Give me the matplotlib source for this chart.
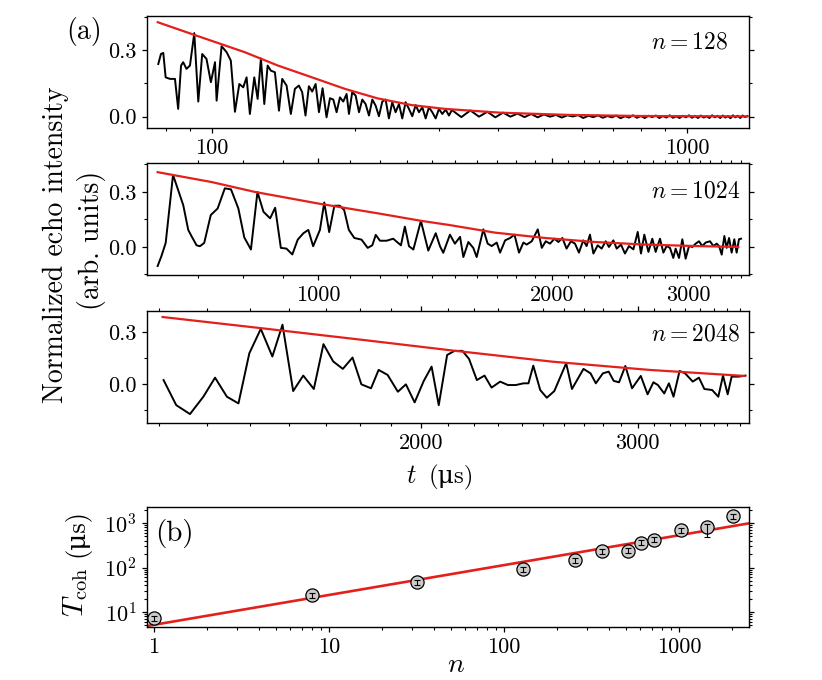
import matplotlib
matplotlib.use('Agg')
import matplotlib.pyplot as plt
import matplotlib.ticker as ticker
import numpy as np

# Computer-Modern look, with a fallback family for the upright mu
plt.rcParams['font.family'] = ['cmr10', 'DejaVu Serif']
plt.rcParams['mathtext.fontset'] = 'cm'
plt.rcParams['axes.formatter.use_mathtext'] = True
plt.rcParams['axes.unicode_minus'] = False
plt.rcParams['xtick.labelsize'] = 16
plt.rcParams['ytick.labelsize'] = 16

# ---- data ---------------------------------------------------------------
# n = 128 echo trace (t in us)
t128 = [77.1, 78.1, 79.0, 79.9, 81.6, 83.6, 84.9, 86.1, 87.0, 88.4,
        89.9, 91.8, 93.6, 95.4, 97.4, 99.5, 101.5, 102.3, 104.8, 107.4,
        109.6, 111.8, 114.2, 116.4, 118.3, 120.2, 122.8, 124.8, 126.8, 128.9,
        131.0, 133.1, 135.7, 138.4, 140.6, 143.6, 146.6, 149.5, 152.4, 154.9,
        157.4, 160.0, 162.6, 165.3, 168.0, 171.0, 174.3, 177.2, 180.1, 183.0,
        186.0, 189.0, 192.1, 194.3, 197.4, 200.7, 204.0, 207.3, 210.6, 214.1,
        217.6, 221.1, 224.7, 228.4, 232.1, 235.8, 239.7, 243.6, 247.6, 251.6,
        255.7, 259.9, 264.1, 268.5, 272.8, 277.3, 281.8, 286.3, 291.0, 295.8,
        300.6, 305.5, 310.4, 315.5,
        320, 335, 350, 365, 380, 395, 410, 425, 440, 455,
        470, 485, 500, 515, 530, 545, 560, 575, 590, 605,
        620, 635, 650, 665, 680, 695, 710, 725, 740, 755,
        770, 785, 800, 815, 830, 845, 860, 875, 890, 905,
        920, 935, 950, 965, 980, 995, 1010, 1025, 1040, 1055,
        1070, 1085, 1100, 1115, 1130, 1145, 1160, 1175, 1190, 1205,
        1220, 1235, 1250, 1265, 1280, 1295, 1310, 1325, 1340]
echo128 = [0.237, 0.282, 0.287, 0.177, 0.170, 0.170, 0.035, 0.230, 0.245, 0.215,
           0.230, 0.376, 0.068, 0.282, 0.260, 0.155, 0.245, 0.072, 0.317, 0.290,
           0.252, 0.022, 0.147, 0.132, 0.177, 0.012, 0.177, 0.080, 0.262, 0.057,
           0.230, 0.207, 0.200, 0.027, 0.170, 0.140, 0.012, 0.125, 0.140, 0.110,
           0.005, 0.137, 0.113, 0.147, 0.020, 0.128, -0.003, 0.083, 0.077, 0.020,
           0.087, 0.068, 0.102, 0.012, 0.110, 0.095, 0.020, 0.077, 0.057, 0.005,
           0.077, 0.050, 0.002, 0.068, 0.077, -0.008, 0.065, 0.020, 0.057, -0.008,
           0.065, 0.035, 0.002, 0.052, 0.020, 0.042, -0.008, 0.042, 0.020, -0.008,
           0.035, 0.012, 0.032, 0.005,
           0.030, -0.002, 0.028, 0.000, 0.022, -0.003, 0.018, 0.000, 0.014, -0.002,
           0.012, -0.003, 0.010, 0.000, 0.008, -0.004, 0.006, 0.001, 0.007, -0.006,
           0.004, -0.002, 0.006, -0.005, 0.003, -0.003, 0.005, -0.007, 0.002, -0.004,
           0.006, -0.005, 0.003, -0.006, 0.004, -0.002, 0.005, -0.006, 0.003, -0.004,
           0.006, -0.005, 0.002, -0.006, 0.004, -0.003, 0.006, -0.005, 0.003, -0.006,
           0.005, -0.004, 0.002, -0.006, 0.006, -0.003, 0.004, -0.006, 0.005, -0.004,
           0.003, -0.007, 0.006, -0.003, 0.004, -0.006, 0.005, -0.002, 0.003]
fit128_t = [76.9, 92.1, 117.3, 137.7, 162.4, 190.6, 223.5, 263.6, 309.5, 404, 560, 800, 1340]
fit128 = [0.425, 0.367, 0.290, 0.230, 0.177, 0.125, 0.082, 0.052, 0.035, 0.018, 0.008, 0.003, 0.001]

# n = 1024 echo trace
t1024 = [621, 628, 636, 650, 660, 670, 680, 687, 697, 704,
         713, 727, 742, 758, 772, 789, 803, 819, 835, 850,
         867, 880, 895, 910, 926, 941, 957, 971, 985, 1005,
         1018, 1033, 1049, 1066, 1080, 1095, 1113, 1137, 1158, 1174,
         1186, 1201, 1225, 1249, 1278, 1293, 1309, 1326, 1356, 1386,
         1417, 1435, 1449,
         1478, 1500, 1523, 1538, 1561, 1584, 1600, 1632, 1653, 1673,
         1698, 1715, 1741, 1767, 1790, 1814, 1838, 1856, 1884, 1918,
         1941, 1964, 1989, 2015, 2039, 2063, 2089, 2116, 2142, 2167,
         2195, 2217, 2239, 2262, 2291, 2318, 2346, 2369, 2400, 2424,
         2455, 2484, 2514, 2547, 2580, 2605, 2631, 2663, 2694, 2721,
         2756, 2784, 2811, 2839, 2867, 2887, 2916, 2945, 2974, 3004,
         3034, 3064, 3094, 3125, 3156, 3197, 3229, 3261, 3284, 3310,
         3336, 3359, 3383, 3409, 3436, 3460, 3484, 3505]
echo1024 = [-0.104, -0.050, 0.022, 0.393, 0.309, 0.228, 0.093, 0.057, 0.009, 0.004,
            0.022, 0.174, 0.210, 0.320, 0.314, 0.210, 0.052, -0.014, 0.300, 0.192,
            0.156, 0.214, -0.005, -0.009, -0.041, 0.040, 0.075, 0.093, 0.004, 0.093,
            0.243, 0.081, 0.225, 0.225, 0.201, 0.093, 0.049, 0.040, -0.005, 0.009,
            0.066, 0.034, 0.034, 0.045, 0.009, 0.111, 0.004, -0.014, 0.142, -0.020,
            0.075, 0.004, -0.032,
            0.067, 0.018, 0.055, -0.055, 0.027, -0.005, -0.055, 0.096, 0.018, 0.005,
            0.024, -0.031, 0.036, 0.049, 0.067, -0.031, 0.024, 0.013, 0.031, 0.096,
            -0.005, 0.031, 0.018, 0.045, 0.027, 0.049, -0.009, 0.031, 0.018, -0.031,
            0.036, 0.005, 0.067, -0.036, 0.009, -0.009, 0.031, 0.000, 0.036, -0.009,
            0.013, -0.036, 0.005, -0.013, 0.082, -0.036, 0.067, -0.027, 0.045, -0.027,
            0.045, -0.031, 0.005, -0.005, -0.060, -0.009, -0.060, 0.042, -0.064, 0.005,
            0.000, 0.018, 0.031, 0.005, 0.024, 0.031, 0.005, 0.018, 0.005, -0.042,
            0.060, -0.005, 0.049, -0.031, 0.042, -0.031, 0.042, 0.045]
fit1024_t = [621, 729, 829, 1000, 1195, 1359, 1474, 1690, 1960, 2273, 2636, 3058, 3477]
fit1024 = [0.408, 0.354, 0.300, 0.237, 0.183, 0.142, 0.120, 0.078, 0.049, 0.027, 0.013, 0.005, 0.000]

# n = 2048 echo trace
t2048 = [1309, 1335, 1364, 1393, 1419, 1446, 1473, 1499, 1527, 1556,
         1582, 1610, 1637, 1666, 1693, 1721, 1749, 1778, 1805, 1835,
         1859, 1888, 1922, 1949, 1979, 2011, 2039, 2065, 2096, 2124,
         2154, 2180, 2211, 2242, 2271, 2307, 2340, 2374, 2409, 2431,
         2453, 2485, 2516, 2552, 2610, 2639, 2698, 2735, 2763, 2801,
         2833, 2861, 2891, 2927, 2966, 3018, 3059, 3095, 3123, 3163,
         3193, 3223, 3263, 3300, 3352, 3395, 3433, 3489, 3534, 3569,
         3604, 3634, 3688, 3742]
echo2048 = [0.023, -0.123, -0.175, -0.074, 0.037, -0.074, -0.113, 0.179, 0.321, 0.160,
            0.345, -0.041, 0.049, -0.029, 0.232, 0.131, 0.088, 0.154, -0.002, -0.025,
            0.082, 0.053, -0.045, -0.002, -0.107, 0.018, 0.101, -0.123, 0.169, 0.193,
            0.193, 0.146, 0.023, 0.049, -0.021, 0.014, -0.006, -0.006, 0.004, 0.004,
            0.107, -0.035, -0.080, -0.041, 0.121, -0.029, 0.088, 0.062, 0.004, 0.062,
            0.072, 0.018, 0.010, 0.105, -0.025, 0.047, -0.060, 0.010, -0.006, -0.055,
            0.004, -0.074, 0.076, 0.062, 0.014, 0.037, -0.029, -0.035, -0.074, 0.049,
            -0.060, 0.043, 0.043, 0.049]
fit2048_t = [1307, 1528, 1808, 2127, 2543, 3071, 3733]
fit2048 = [0.390, 0.325, 0.257, 0.193, 0.130, 0.082, 0.047]

# (b) coherence time vs n
n_vals = [1, 8, 32, 128, 256, 362, 512, 608, 724, 1024, 1448, 2048]
T_coh = [7.3, 24, 47, 92, 145, 232, 238, 360, 420, 697, 826, 1435]
T_err_lo = [1.0, 3, 6, 11, 18, 30, 30, 45, 55, 90, 330, 180]
T_err_hi = [1.0, 3, 6, 11, 18, 30, 30, 45, 55, 90, 100, 180]
fit_n = [0.9, 2600]
fit_T = [4.8, 1007]

RED = '#e3201b'
W, H = 822, 680


def box(x0, y0, x1, y1):
    """pixel box (top-left origin) -> figure fraction rect"""
    return [x0 / W, 1 - y1 / H, (x1 - x0) / W, (y1 - y0) / H]


def style_axis(ax, top=True):
    for s in ax.spines.values():
        s.set_linewidth(1.0)
    ax.tick_params(which='both', direction='out', top=top, right=True,
                   labeltop=False, labelright=False)
    ax.tick_params(which='major', length=3.5, width=0.9, pad=4)
    ax.tick_params(which='minor', length=2.5, width=0.8)


def echo_yaxis(ax):
    ax.yaxis.set_major_locator(ticker.FixedLocator([0.0, 0.3]))
    ax.yaxis.set_major_formatter(ticker.FormatStrFormatter('%.1f'))
    ax.yaxis.set_minor_locator(ticker.MultipleLocator(0.15))


def plain_fmt(v, pos):
    return f'{v:g}'


fig = plt.figure(figsize=(W / 100, H / 100), dpi=100)

# panel n = 128
ax1 = fig.add_axes(box(147, 16, 749, 128))
ax1.plot(t128, echo128, color='k', lw=1.4)
ax1.plot(fit128_t, fit128, color=RED, lw=1.6)
ax1.set_xscale('log')
ax1.set_xlim(73.0, 1351)
ax1.set_ylim(-0.051, 0.453)
ax1.xaxis.set_major_locator(ticker.FixedLocator([100, 1000]))
ax1.xaxis.set_minor_locator(ticker.FixedLocator([80, 90, 200, 300, 400, 500, 600, 700, 800, 900]))
ax1.xaxis.set_major_formatter(ticker.FuncFormatter(plain_fmt))
ax1.xaxis.set_minor_formatter(ticker.NullFormatter())
echo_yaxis(ax1)
style_axis(ax1, top=False)
ax1.text(0.965, 0.76, r'$n=128$', transform=ax1.transAxes, ha='right', va='center', fontsize=17)

# panel n = 1024
ax2 = fig.add_axes(box(147, 163, 749, 275))
ax2.plot(t1024, echo1024, color='k', lw=1.4)
ax2.plot(fit1024_t, fit1024, color=RED, lw=1.6)
ax2.set_xscale('log')
ax2.set_xlim(601.7, 3589)
ax2.set_ylim(-0.153, 0.458)
ax2.xaxis.set_major_locator(ticker.FixedLocator([1000, 2000, 3000]))
ax2.xaxis.set_minor_locator(ticker.FixedLocator(
    [700, 800, 900] + list(range(1100, 2000, 100)) + list(range(2100, 3000, 100)) + list(range(3100, 3600, 100))))
ax2.xaxis.set_major_formatter(ticker.FuncFormatter(plain_fmt))
ax2.xaxis.set_minor_formatter(ticker.NullFormatter())
echo_yaxis(ax2)
style_axis(ax2)
ax2.text(0.985, 0.75, r'$n=1024$', transform=ax2.transAxes, ha='right', va='center', fontsize=17)

# panel n = 2048 (compressed time axis)
ax3 = fig.add_axes(box(147, 311, 749, 423))
ax3.plot(t2048, echo2048, color='k', lw=1.4)
ax3.plot(fit2048_t, fit2048, color=RED, lw=1.6)


def fwd(t):
    t = np.clip(np.asarray(t, dtype=float), 1e-3, None)
    return -np.power(t, -0.3)


def inv(u):
    u = np.clip(-np.asarray(u, dtype=float), 1e-12, None)
    return np.power(u, -1 / 0.3)


ax3.set_xscale('function', functions=(fwd, inv))
ax3.set_xlim(1276, 3770)
ax3.set_ylim(-0.227, 0.425)
ax3.xaxis.set_major_locator(ticker.FixedLocator([2000, 3000]))
ax3.xaxis.set_minor_locator(ticker.FixedLocator(
    list(range(1300, 2000, 100)) + list(range(2100, 3000, 100)) + list(range(3100, 3800, 100))))
ax3.xaxis.set_major_formatter(ticker.FuncFormatter(plain_fmt))
ax3.xaxis.set_minor_formatter(ticker.NullFormatter())
echo_yaxis(ax3)
style_axis(ax3)
ax3.text(0.985, 0.79, r'$n=2048$', transform=ax3.transAxes, ha='right', va='center', fontsize=17)

# panel (b)
ax4 = fig.add_axes(box(147, 507, 749, 627))
ax4.plot(fit_n, fit_T, color=RED, lw=1.9, zorder=2)
ax4.plot(n_vals, T_coh, 'o', ms=9.5, mfc='#cbcbcb', mec='k', mew=0.9, zorder=3)
ax4.errorbar(n_vals, T_coh, yerr=[T_err_lo, T_err_hi], fmt='none', ecolor='k',
             elinewidth=0.8, capsize=2.5, capthick=0.8, zorder=4)
ax4.set_xscale('log')
ax4.set_yscale('log')
ax4.set_xlim(0.912, 2512)
ax4.set_ylim(4.6, 2290)
ax4.xaxis.set_major_locator(ticker.FixedLocator([1, 10, 100, 1000]))
ax4.xaxis.set_major_formatter(ticker.FuncFormatter(plain_fmt))
ax4.xaxis.set_minor_locator(ticker.LogLocator(base=10, subs=np.arange(2, 10)))
ax4.xaxis.set_minor_formatter(ticker.NullFormatter())
ax4.yaxis.set_major_locator(ticker.FixedLocator([10, 100, 1000]))
ax4.yaxis.set_minor_locator(ticker.LogLocator(base=10, subs=np.arange(2, 10)))
ax4.yaxis.set_minor_formatter(ticker.NullFormatter())
style_axis(ax4, top=False)
ax4.text(0.013, 0.78, '(b)', transform=ax4.transAxes, ha='left', va='center', fontsize=21)

# shared labels (the mu is kept out of mathtext so the font fallback can supply it)
fig.text(84 / W, 1 - 31 / H, '(a)', ha='center', va='center', fontsize=20)
fig.text(56 / W, 1 - 245 / H, 'Normalized echo intensity', rotation=90,
         ha='center', va='center', fontsize=20)
fig.text(91 / W, 1 - 240 / H, '(arb. units)', rotation=90,
         ha='center', va='center', fontsize=20)
fig.text(411 / W, 1 - 483 / H, r'$t$', ha='center', va='baseline', fontsize=19)
fig.text(429 / W, 1 - 483 / H, '(μs)', ha='left', va='baseline', fontsize=18)
fig.text(90 / W, 1 - 592 / H, r'$T_{\rm coh}$', rotation=90,
         ha='right', va='center', fontsize=21)
fig.text(90 / W, 1 - 533 / H, '(μs)', rotation=90,
         ha='right', va='center', fontsize=19)
fig.text(456 / W, 1 - 665 / H, r'$n$', ha='center', va='center', fontsize=20)

fig.savefig('out.png', dpi=100)
